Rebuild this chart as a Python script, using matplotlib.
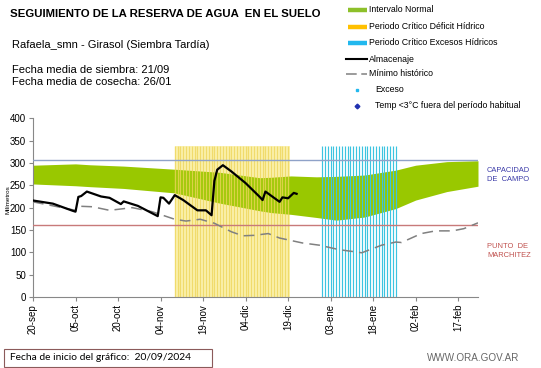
import matplotlib.pyplot as plt
import numpy as np
from matplotlib.lines import Line2D
from matplotlib.patches import Rectangle

plt.rcParams["font.family"] = ["Liberation Sans", "DejaVu Sans"]

# days since 20-sep-2024
band_days = [0, 15, 20, 32, 50, 66, 80, 84, 91, 100, 107, 117, 128, 135, 146, 157]
band_top = [295, 298, 296, 293, 286, 279, 267, 268, 271, 269, 270, 273, 284, 295, 303, 305]
band_bottom = [253, 249, 247, 243, 233, 210, 193, 189, 185, 178, 172, 179, 198, 217, 236, 248]

store_days = [0, 7, 14, 15, 16, 17, 19, 24, 27, 31, 32, 37, 44, 45, 46, 48, 50, 53, 58,
              61, 63, 64, 65, 67, 70, 75, 80, 81, 82, 87, 88, 90, 92, 93]
store_vals = [216, 209, 193, 191, 224, 226, 236, 225, 222, 208, 214, 204, 181, 223, 222,
              209, 228, 217, 194, 194, 183, 260, 285, 295, 281, 255, 224, 217, 236, 213,
              223, 221, 233, 231]

min_days = [0, 15, 17, 21, 27, 35, 42, 50, 54, 59, 64, 70, 74, 78, 83, 87, 95, 101, 108,
            116, 123, 128, 130, 137, 142, 148, 152, 157]
min_vals = [213, 194, 203, 202, 194, 200, 191, 174, 170, 174, 165, 146, 137, 138, 142, 132,
            121, 116, 106, 99, 116, 123, 122, 142, 148, 148, 153, 166]

deficit_period = (50, 90)
excess_period = (102, 128)
shade_top = 338
field_capacity = 307
wilting_point = 161
x_end = 157

tick_days = [0, 15, 30, 45, 60, 75, 90, 105, 120, 135, 150]
tick_labels = ["20-sep", "05-oct", "20-oct", "04-nov", "19-nov", "04-dic", "19-dic",
               "03-ene", "18-ene", "02-feb", "17-feb"]

W, H = 541, 368
fig = plt.figure(figsize=(W / 100, H / 100), dpi=100)


def fx(px):
    return px / W


def fy(py):
    return 1 - py / H


ax = fig.add_axes([fx(33), fy(297), fx(478 - 33), (297 - 118.3) / H])

green = "#99c800"
ax.fill_between(band_days, band_bottom, band_top, color=green, lw=0, zorder=1)

d0, d1 = deficit_period
ax.fill_between([d0, d1 + 0.5], 0, shade_top, color="#fcf3b4", lw=0, zorder=0)
ax.vlines(np.arange(d0, d1 + 1), 0, shade_top, color="#eed55a", lw=1.0, alpha=0.8, zorder=2)

e0, e1 = excess_period
ax.vlines(np.arange(e0, e1 + 1), 0, shade_top, color="#3cc4e0", lw=0.85, zorder=2)

ax.axhline(field_capacity, color="#8fa2c8", lw=1.0, zorder=3)
ax.axhline(wilting_point, color="#c87a7a", lw=1.0, zorder=3)

ax.plot(min_days, min_vals, color="#808080", lw=1.1, dashes=(7, 4), zorder=4)
ax.plot(store_days, store_vals, color="black", lw=1.6, zorder=5)

ax.set_xlim(0, x_end)
ax.set_ylim(0, 400)
ax.set_yticks(range(0, 401, 50))
ax.set_xticks(tick_days)
ax.set_xticklabels(tick_labels, rotation=90)
ax.tick_params(labelsize=7, length=3, color="#888888", pad=2)
for s in ["top", "right"]:
    ax.spines[s].set_visible(False)
for s in ["left", "bottom"]:
    ax.spines[s].set_color("#888888")
ax.set_facecolor("none")

fig.text(fx(8), fy(200), "Milímetros", rotation=90, fontsize=4.5, ha="center", va="center")

# header texts
fig.text(fx(10), fy(14), "SEGUIMIENTO DE LA RESERVA DE AGUA  EN EL SUELO",
         fontsize=8.2, fontweight="bold", va="center")
fig.text(fx(12), fy(45), "Rafaela_smn - Girasol (Siembra Tardía)", fontsize=8, va="center")
fig.text(fx(12), fy(70), "Fecha media de siembra: 21/09", fontsize=8, va="center")
fig.text(fx(12), fy(82), "Fecha media de cosecha: 26/01", fontsize=8, va="center")

# legend
leg_fs = 6.3
rows = [10, 26.7, 42.7, 59.3, 74, 90, 106]
patch_items = [("Intervalo Normal", "#8dc02a"),
               ("Periodo Crítico Déficit Hídrico", "#ffc000"),
               ("Periodo Crítico Excesos Hídricos", "#22b8ee")]
for (label, c), ry in zip(patch_items, rows[:3]):
    fig.add_artist(Line2D([fx(348), fx(367)], [fy(ry), fy(ry)], color=c, lw=3.2,
                          solid_capstyle="butt"))
    fig.text(fx(369), fy(ry), label, fontsize=leg_fs, va="center")
fig.add_artist(Line2D([fx(346), fx(367)], [fy(rows[3]), fy(rows[3])], color="black", lw=1.5))
fig.text(fx(369), fy(rows[3]), "Almacenaje", fontsize=leg_fs, va="center")
fig.add_artist(Line2D([fx(346), fx(367)], [fy(rows[4]), fy(rows[4])], color="#808080",
                      lw=1.1, dashes=(7, 3)))
fig.text(fx(369), fy(rows[4]), "Mínimo histórico", fontsize=leg_fs, va="center")
fig.add_artist(Line2D([fx(357)], [fy(rows[5])], marker="s", ms=1.8, color="#22b8ee", lw=0))
fig.text(fx(375), fy(rows[5]), "Exceso", fontsize=leg_fs, va="center")
fig.add_artist(Line2D([fx(357)], [fy(rows[6])], marker="D", ms=2.4, color="#2030b0", lw=0))
fig.text(fx(375), fy(rows[6]), "Temp <3°C fuera del período habitual", fontsize=leg_fs,
         va="center")

# right annotations
fig.text(fx(487), fy(175), "CAPACIDAD\nDE  CAMPO", fontsize=5.4, color="#3a3aa8",
         va="center", linespacing=1.3)
fig.text(fx(487), fy(251), "PUNTO  DE\nMARCHITEZ", fontsize=5.4, color="#c0504d",
         va="center", linespacing=1.3)

# footer
fig.add_artist(Rectangle((fx(4), fy(367)), fx(208), (367 - 349) / H, transform=fig.transFigure,
                         facecolor="white", edgecolor="#8b5a5a", lw=0.8))
fig.text(fx(10), fy(358), "Fecha de inicio del gráfico:  20/09/2024", fontsize=7.4,
         family=["Lato", "DejaVu Sans"], va="center")
fig.text(fx(427), fy(358), "WWW.ORA.GOV.AR", fontsize=7.1, color="#666666", va="center")

fig.savefig("out.png", dpi=100)
